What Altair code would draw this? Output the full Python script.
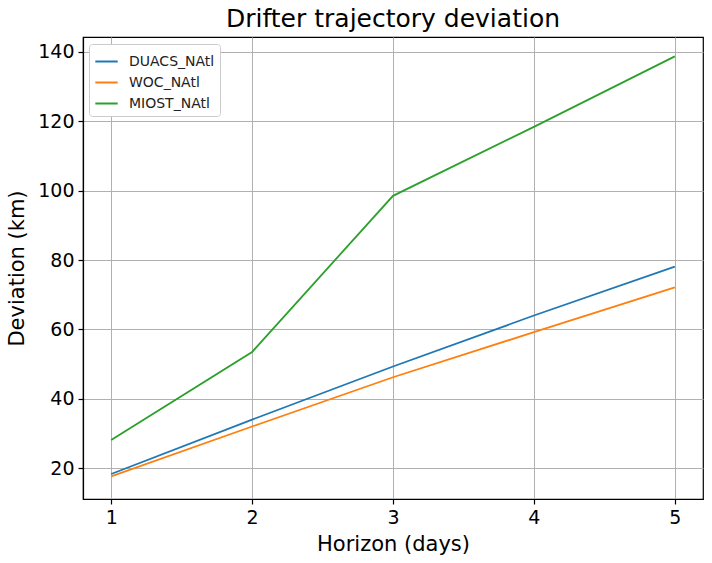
import altair as alt
import pandas as pd

horizon = [1, 2, 3, 4, 5]
duacs = [18.3, 34.0, 49.3, 64.0, 78.1]
woc = [17.6, 32.0, 46.2, 59.2, 72.1]
miost = [28.1, 53.5, 98.5, 118.4, 138.7]
series_names = ["DUACS_NAtl", "WOC_NAtl", "MIOST_NAtl"]
colors = ["#1f77b4", "#ff7f0e", "#2ca02c"]

rows = []
for name, vals in zip(series_names, [duacs, woc, miost]):
    for h, v in zip(horizon, vals):
        rows.append({"Horizon": h, "Deviation": v, "Series": name})
df = pd.DataFrame(rows)

font = "DejaVu Sans"

chart = alt.Chart(df).mark_line(strokeWidth=1.8, clip=True).encode(
    x=alt.X("Horizon:Q",
            scale=alt.Scale(domain=[0.8, 5.2], nice=False, zero=False),
            axis=alt.Axis(title="Horizon (days)", values=[1, 2, 3, 4, 5], format="d")),
    y=alt.Y("Deviation:Q",
            scale=alt.Scale(domain=[11.1, 144.3], nice=False, zero=False),
            axis=alt.Axis(title="Deviation (km)", values=[20, 40, 60, 80, 100, 120, 140])),
    color=alt.Color("Series:N",
                    scale=alt.Scale(domain=series_names, range=colors),
                    legend=alt.Legend(title=None, orient="none", legendX=6, legendY=7,
                                      symbolType="stroke", symbolStrokeWidth=2,
                                      symbolSize=500,
                                      labelFont=font, labelFontSize=14,
                                      labelColor="#222222",
                                      strokeColor="#cccccc", fillColor="white",
                                      padding=5, cornerRadius=3,
                                      rowPadding=1, labelOffset=10)),
).properties(
    width=620, height=462,
    title=alt.TitleParams("Drifter trajectory deviation", font=font, fontSize=25,
                          fontWeight="normal", color="black", offset=5),
    autosize=alt.AutoSizeParams(type="none"),
    padding={"left": 83, "top": 37, "right": 9, "bottom": 64},
).configure_view(
    stroke="black", strokeWidth=1.2
).configure_axis(
    labelFont=font, labelFontSize=19, labelColor="black",
    titleFont=font, titleFontSize=21, titleFontWeight="normal", titleColor="black",
    grid=True, gridColor="#b0b0b0", gridWidth=1,
    domainColor="black", domainWidth=1.2,
    tickColor="black", tickSize=5, tickWidth=1.2,
    labelPadding=4,
).configure_axisX(
    titlePadding=6
).configure_axisY(
    titlePadding=10
)

chart.save("out.html", embed_options={"renderer": "svg", "actions": False})
